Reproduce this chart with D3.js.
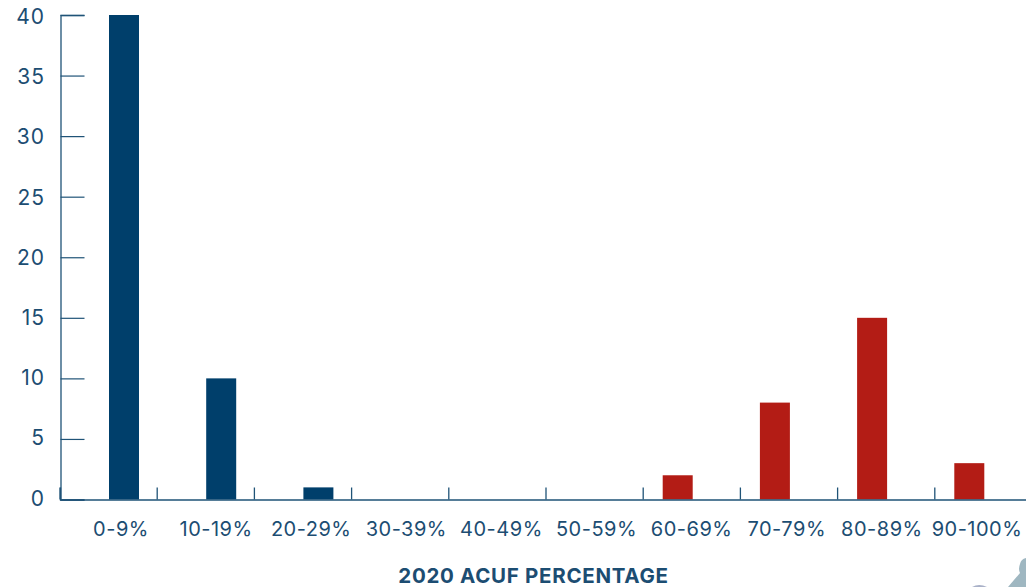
<!DOCTYPE html>
<html>
<head>
<meta charset="utf-8">
<script src="https://cdn.jsdelivr.net/npm/d3@7.9.0/dist/d3.min.js"></script>
<style>
  html, body { margin: 0; padding: 0; background: #fff; }
  svg { display: block; }
  text { font-family: Inter, "Open Sans", sans-serif; fill: #1c4d72; }
</style>
</head>
<body>
<svg id="chart" width="1026" height="587"></svg>
<script>
const categories = ['0-9%', '10-19%', '20-29%', '30-39%', '40-49%', '50-59%', '60-69%', '70-79%', '80-89%', '90-100%'];
const counts = [40, 10, 1, 0, 0, 0, 2, 8, 15, 3];
const yTicks = [0, 5, 10, 15, 20, 25, 30, 35, 40];
const xTitle = '2020 ACUF PERCENTAGE';
const blue = '#003f6b';
const red = '#b31c15';
const axisColor = '#1f5377';

const svg = d3.select('#chart');

let x = d3.scaleBand().domain(categories).range([60, 1032]);
let labelX = d3.scalePoint().domain(categories).range([121, 977]);
let y = d3.scaleLinear().domain([0, 40]).range([499.5, 15]);
// number labels sit a little off their ticks in the original
let labelY = d3.scaleLinear().domain([0, 40]).range([505.5, 24]);

// blue group sits right of band centre, red group left of it
svg.selectAll('rect.bar')
  .data(counts)
  .join('rect')
  .attr('class', 'bar')
  .attr('x', (d, i) => x(categories[i]) + (i < 5 ? 49 : 19.5))
  .attr('width', 30)
  .attr('y', d => y(d))
  .attr('height', d => y(0) - y(d))
  .attr('fill', (d, i) => i < 5 ? blue : red);

// y axis
let yAxis = svg.append('g').attr('transform', 'translate(60.5,0)')
  .call(d3.axisRight(y).tickValues(yTicks).tickSize(24).tickFormat(''));
yAxis.selectAll('line').attr('stroke', axisColor).attr('stroke-width', 1.2);
yAxis.select('.domain').attr('stroke', axisColor).attr('stroke-width', 1.3);

svg.selectAll('text.ylab')
  .data(yTicks)
  .join('text')
  .attr('class', 'ylab')
  .attr('x', 45)
  .attr('y', d => labelY(d))
  .attr('text-anchor', 'end')
  .attr('font-size', 21)
  .attr('letter-spacing', 1)
  .text(d => d);

// x axis, ticks point up at the band edges
let xAxis = svg.append('g').attr('transform', 'translate(0,499.5)')
  .call(d3.axisTop(x).tickSize(12).tickFormat(''));
xAxis.selectAll('.tick').attr('transform', d => `translate(${x(d)},0)`);
xAxis.selectAll('line').attr('stroke', axisColor).attr('stroke-width', 1.3);
xAxis.select('.domain').attr('stroke', axisColor).attr('stroke-width', 1.3);

svg.selectAll('text.xlab')
  .data(categories)
  .join('text')
  .attr('class', 'xlab')
  .attr('x', d => labelX(d))
  .attr('y', 536)
  .attr('text-anchor', 'middle')
  .attr('font-size', 20)
  .attr('letter-spacing', 0.5)
  .text(d => d);

svg.append('text')
  .attr('x', 533.5)
  .attr('y', 583)
  .attr('text-anchor', 'middle')
  .attr('font-size', 20.5)
  .attr('font-weight', 700)
  .attr('letter-spacing', 0.7)
  .text(xTitle);

// background artwork peeking in at the bottom right corner
svg.append('path')
  .attr('d', 'M1026,558 Q1021,559 1020,564 Q1018,569 1020,573 L1008,587 L1026,587 Z')
  .attr('fill', '#9fb7c1');
svg.append('path')
  .attr('d', 'M972,587 Q979,583 987,587 Z')
  .attr('fill', '#a9b1c8');
</script>
</body>
</html>
